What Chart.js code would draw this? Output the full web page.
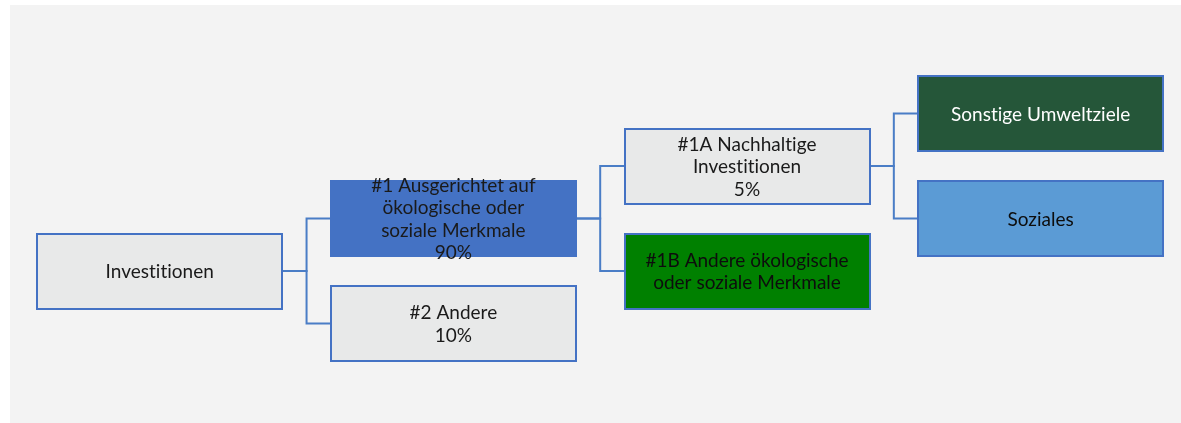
<!DOCTYPE html>
<html>
<head>
<meta charset="utf-8">
<script src="https://cdn.jsdelivr.net/npm/chart.js@4"></script>
<style>
  html, body { margin: 0; padding: 0; background: #ffffff; }
  canvas { display: block; }
</style>
</head>
<body>
<canvas id="c" width="1181" height="423"></canvas>
<script>
// ---- data ----
const nodeLabels = [
  'Investitionen',
  '#1 Ausgerichtet auf\nökologische oder\nsoziale Merkmale',
  '#2 Andere',
  '#1A Nachhaltige\nInvestitionen',
  '#1B Andere ökologische\noder soziale Merkmale',
  'Sonstige Umweltziele',
  'Soziales'
];
const nodeShares = ['', '90%', '10%', '5%', '', '', ''];
const nodeLevels = [0, 1, 1, 2, 2, 3, 3];
const nodeRows   = [0, -1, 1, -2, 0, -3, -1];
const nodeParents = [-1, 0, 0, 1, 1, 3, 3];

// ---- styles ----
const nodeFills  = ['#E8E9E9', '#4472C4', '#E8E9E9', '#E8E9E9', '#008000', '#255639', '#5B9BD5'];
const nodeText   = ['#1a1a1a', '#1a1a1a', '#1a1a1a', '#1a1a1a', '#0d0d0d', '#ffffff', '#0d0d0d'];
const BORDER = '#4472C4';
const LINK = '#4A7DC6';
const BOX_W = 245, BOX_H = 75;
const FONT = '19px Lato';
const LINE_H = 22.5;

// connectors built from the tree structure
const linkSets = [];
nodeParents.forEach((p, i) => {
  if (p < 0) return;
  const mid = nodeLevels[p] + 0.5;
  linkSets.push({
    type: 'line',
    data: [
      { x: nodeLevels[p], y: nodeRows[p] },
      { x: mid, y: nodeRows[p] },
      { x: mid, y: nodeRows[i] },
      { x: nodeLevels[i], y: nodeRows[i] }
    ],
    borderColor: LINK,
    borderWidth: 2,
    pointRadius: 0,
    tension: 0,
    fill: false,
    borderJoinStyle: 'miter'
  });
});

const nodeSet = {
  type: 'scatter',
  label: 'nodes',
  data: nodeLevels.map((l, i) => ({ x: l, y: nodeRows[i] })),
  pointRadius: 0
};

const panelPlugin = {
  id: 'panel',
  beforeDraw(chart) {
    const ctx = chart.ctx;
    ctx.save();
    ctx.fillStyle = '#ffffff';
    ctx.fillRect(0, 0, chart.width, chart.height);
    ctx.fillStyle = '#F3F3F3';
    ctx.fillRect(10, 5, chart.width - 10, chart.height - 5);
    ctx.restore();
  }
};

const boxPlugin = {
  id: 'boxes',
  afterDatasetsDraw(chart) {
    const ctx = chart.ctx;
    const xs = chart.scales.x, ys = chart.scales.y;
    ctx.save();
    nodeLabels.forEach((lab, i) => {
      const cx = xs.getPixelForValue(nodeLevels[i]);
      const cy = ys.getPixelForValue(nodeRows[i]);
      const x0 = Math.round(cx - BOX_W / 2), y0 = Math.round(cy - BOX_H / 2);
      ctx.fillStyle = nodeFills[i];
      ctx.fillRect(x0, y0, BOX_W, BOX_H);
      ctx.strokeStyle = BORDER;
      ctx.lineWidth = 2;
      ctx.strokeRect(x0, y0, BOX_W, BOX_H);
      const lines = lab.split('\n');
      if (nodeShares[i]) lines.push(nodeShares[i]);
      ctx.fillStyle = nodeText[i];
      ctx.font = FONT;
      if ('letterSpacing' in ctx) ctx.letterSpacing = '0.01px';
      ctx.textAlign = 'center';
      ctx.textBaseline = 'middle';
      const top = cy - (lines.length - 1) / 2 * LINE_H;
      lines.forEach((t, k) => ctx.fillText(t, cx, top + k * LINE_H + 1));
    });
    ctx.restore();
  }
};

new Chart(document.getElementById('c'), {
  type: 'scatter',
  data: { datasets: [...linkSets, nodeSet] },
  options: {
    responsive: false,
    animation: false,
    devicePixelRatio: 1,
    layout: { padding: 0 },
    plugins: { legend: { display: false }, tooltip: { enabled: false } },
    scales: {
      x: { type: 'linear', display: false, min: -0.544, max: 3.478 },
      y: { type: 'linear', display: false, reverse: true, min: -5.162, max: 2.895 }
    }
  },
  plugins: [panelPlugin, boxPlugin]
});
</script>
</body>
</html>
